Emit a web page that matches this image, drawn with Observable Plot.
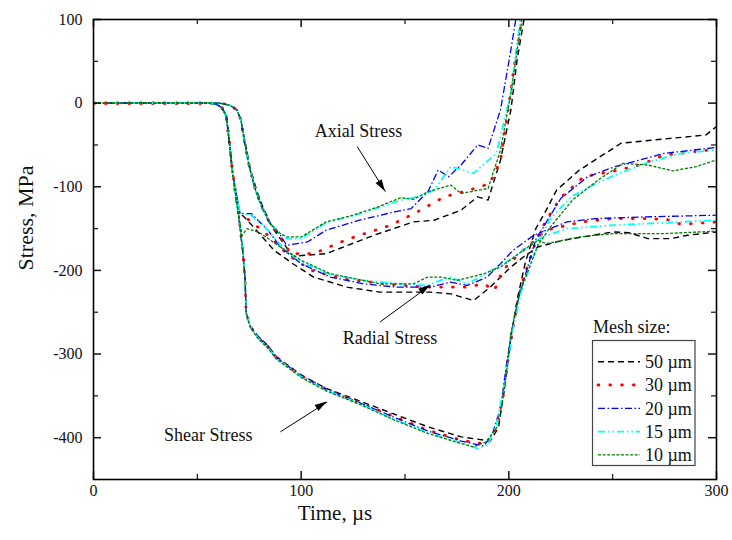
<!DOCTYPE html>
<html><head><meta charset="utf-8">
<script src="https://cdn.jsdelivr.net/npm/d3@7"></script>
<script src="https://cdn.jsdelivr.net/npm/@observablehq/plot@0.6"></script>
<style>
body{margin:0;background:#fff;}
#wrap{position:relative;width:732px;height:540px;}
#legend{position:absolute;left:585px;top:312px;}
</style></head><body><div id="wrap"></div>
<script>
// ---- Legend / series definitions ----
const meshSizes = ["50 µm","30 µm","20 µm","15 µm","10 µm"];
const meshColors = ["#000000","#ff0000","#0000ff","#00ffff","#008000"];

// ---- Shear stress [time µs, stress MPa] ----
const shear50 = [[0,0],[56,0],[59,-1],[62,-6],[64,-16],[66,-60],[67,-84],[70,-136],[72,-180],[73,-210],[73.5,-250],[75.5,-267],[79,-278],[84,-290],[88,-303],[100,-325],[112,-341],[128,-356],[145,-372],[161,-387],[177,-399],[191,-404],[195,-388],[198,-340],[201,-280],[204,-235],[208,-190],[213,-150],[218,-128],[223,-104],[234,-80],[254,-48],[270,-44],[287,-40],[295,-38],[300,-28]];
const shear30 = [[0,0],[56,0],[59,-1],[62,-6],[64,-16],[66,-60],[67,-84],[70,-136],[72,-180],[73,-210],[73.5,-250],[75.5,-267],[79,-279],[84,-291],[88,-304],[100,-326],[112,-342],[128,-358],[145,-375],[161,-391],[177,-403],[189,-408],[193,-395],[197,-355],[200,-300],[204,-240],[207,-210],[213,-165],[218,-140],[225,-113],[236,-88],[249,-82],[263,-74],[275,-62],[283,-60],[300,-55]];
const shear20 = [[0,0],[56,0],[59,-1],[62,-6],[64,-16],[66,-60],[67,-84],[70,-136],[72,-180],[73,-210],[73.5,-250],[75.5,-267],[79,-279],[84,-291],[88,-304],[100,-326],[112,-342],[128,-358],[145,-376],[161,-392],[177,-404],[188,-410],[192,-396],[196,-365],[199,-310],[202,-265],[205,-230],[213,-163],[225,-114],[238,-88],[251,-76],[263,-68],[275,-60],[300,-53]];
const shear15 = [[0,0],[56,0],[59,-1],[62,-6],[64,-16],[66,-60],[67,-84],[70,-136],[72,-180],[73,-210],[73.5,-250],[75.5,-267],[79,-280],[84,-292],[88,-305],[100,-327],[112,-343],[128,-359],[145,-378],[161,-394],[177,-406],[185,-413],[190,-408],[194,-385],[198,-335],[202,-270],[206,-225],[214,-168],[220,-138],[230,-112],[242,-96],[255,-82],[268,-70],[283,-60],[300,-56]];
const shear10 = [[0,0],[56,0],[59,-1],[62,-6],[64,-16],[66,-60],[67,-84],[70,-136],[72,-180],[73,-212],[73.5,-252],[75.5,-268],[79,-281],[84,-293],[88,-306],[100,-328],[112,-344],[128,-360],[145,-379],[161,-395],[177,-407],[183,-411],[189,-405],[195,-385],[198,-340],[201,-275],[205,-228],[214,-170],[220,-148],[231,-115],[243,-92],[255,-72],[267,-74],[279,-81],[290,-76],[300,-68]];

// ---- Radial stress ----
const radial50 = [[0,0],[56,0],[59,-1],[62,-6],[64,-16],[66,-60],[67,-84],[70,-130],[72.5,-136],[77,-148],[87,-176],[96,-192],[106,-208],[122,-220],[138,-226],[162,-226],[172,-228],[183,-236],[191,-220],[201,-196],[207,-184],[214,-172],[226,-164],[250,-154],[258,-155],[267,-162],[278,-162],[286,-158],[300,-154]];
const radial30 = [[0,0],[56,0],[59,-1],[62,-6],[64,-16],[66,-60],[67,-84],[70,-131],[74,-138],[84,-158],[94,-182],[105,-200],[120,-210],[140,-216],[160,-220],[180,-220],[188,-216],[193,-224],[197,-200],[205,-180],[213,-163],[218,-152],[235,-142],[250,-138],[265,-138],[276,-139],[283,-145],[300,-142]];
const radial20 = [[0,0],[56,0],[59,-1],[62,-6],[64,-16],[66,-60],[67,-84],[70.5,-131],[72,-132],[76,-132],[84,-152],[90,-172],[100,-192],[114,-208],[130,-216],[146,-220],[162,-220],[172,-214],[180,-218],[189.5,-208],[196,-192],[202,-176],[212,-158],[220,-150],[228,-142],[242,-138],[266,-136],[300,-134]];
const radial15 = [[0,0],[56,0],[59,-1],[62,-6],[64,-16],[66,-60],[67,-84],[70.5,-131],[76,-134],[84,-152],[92,-175],[100,-190],[114,-205],[130,-212],[148,-216],[161,-218],[167,-212],[172,-208],[180,-216],[186,-208],[193,-198],[200,-188],[209,-172],[216,-160],[228,-150],[250,-146],[275,-143],[300,-140]];
const radial10 = [[0,0],[56,0],[59,-1],[62,-6],[64,-16],[66,-60],[67,-84],[70,-136],[71.5,-158],[74,-150],[80,-155],[90,-172],[100,-188],[114,-204],[138,-216],[154,-216],[161,-208],[168,-208],[175,-212],[188,-204],[196,-196],[207,-176],[214,-164],[218,-168],[234,-160],[250,-156],[275,-156],[300,-153]];

// ---- Axial stress ----
const axial50 = [[0,0],[60,0],[63,-1],[66,-3],[69,-8],[71,-20],[72.8,-44],[75.3,-76],[78.5,-104],[81.5,-124],[86,-148],[91,-166],[96,-183],[112,-180],[135,-158],[154,-142],[164,-140],[177,-128],[185,-112],[190,-116],[196,-68],[201,-8],[204,52],[208,110]];
const axial30 = [[0,0],[60,0],[63,-1],[66,-3],[69,-8],[71,-20],[72.5,-44],[75,-76],[78,-104],[81,-124],[85,-144],[90,-160],[95,-180],[106,-180],[122,-163],[143,-146],[156,-130],[169,-112],[181,-104],[191,-96],[196,-68],[199,-20],[203,52],[207,110]];
const axial20 = [[0,0],[60,0],[63,-1],[66,-3],[69,-8],[71,-20],[72.5,-44],[75,-76],[78,-104],[81,-124],[85,-144],[90,-158],[93,-170],[103,-166],[112,-152],[128,-140],[145,-130],[153,-126],[161,-106],[166,-80],[171,-88],[177,-74],[185,-50],[190,-54],[196,-8],[201,64],[204,110]];
const axial15 = [[0,0],[60,0],[63,-1],[66,-3],[69,-8],[71,-20],[72.5,-44],[75,-76],[78,-104],[81,-124],[85,-144],[90,-156],[93,-162],[100,-162],[112,-143],[125,-135],[137,-125],[148,-116],[156,-112],[164,-104],[172,-76],[178,-80],[183,-84],[194,-60],[201,12],[206,110]];
const axial10 = [[0,0],[60,0],[63,-1],[66,-3],[69,-8],[71,-20],[72.5,-44],[75,-76],[78,-104],[81,-124],[85,-144],[90,-156],[93,-160],[100,-160],[112,-142],[125,-134],[137,-124],[148,-113],[154,-115],[161,-106],[172,-98],[177,-108],[190,-102],[196,-56],[201,12],[205,80],[207,110]];

// ---- Ticks ----
const xMajor = [0,100,200,300];
const xMinor = [50,150,250];
const yMajor = [-400,-300,-200,-100,0,100];
const yMinor = [-350,-250,-150,-50,50];

// ---- Annotations ----
const annoText = ["Axial Stress","Radial Stress","Shear Stress"];
const annoX = [127.6, 142.8, 55.3];
const annoY = [-34, -281.4, -397];
const arrowX1 = [127, 138, 90];
const arrowY1 = [-52, -261.6, -393];
const arrowX2 = [140.6, 162.3, 112.5];
const arrowY2 = [-105.9, -217.6, -357.4];

// ---- Styles per mesh ----
const dashes = ["6,4", "0.8,11", "7,2.5,1.5,2.5", "7,3,1.5,3,1.5,3", "3,1.6"];
const widths = [1.4, 2.8, 1.3, 1.8, 1.3];
const caps = ["butt","round","butt","butt","butt"];

const seriesByMesh = [
  {shear: shear50, radial: radial50, axial: axial50},
  {shear: shear30, radial: radial30, axial: axial30},
  {shear: shear20, radial: radial20, axial: axial20},
  {shear: shear15, radial: radial15, axial: axial15},
  {shear: shear10, radial: radial10, axial: axial10}
];

const rowsFor = (i) => {
  const out = [];
  for (const type of ["shear","radial","axial"]) {
    for (const [t, s] of seriesByMesh[i][type]) out.push({t, s, type});
  }
  return out;
};

const FONT = '"Liberation Serif","Times New Roman",serif';
const frameW = 732 - 93 - 16, frameH = 540 - 19 - 61;

const annos = annoText.map((text, i) => ({text, x: annoX[i], y: annoY[i]}));
const arrows = arrowX1.map((_, i) => ({x1: arrowX1[i], y1: arrowY1[i], x2: arrowX2[i], y2: arrowY2[i]}));

const marks = [];
for (let i = 0; i < meshSizes.length; i++) {
  marks.push(Plot.line(rowsFor(i), {
    x: "t", y: "s", z: "type",
    stroke: meshColors[i], strokeWidth: widths[i],
    strokeDasharray: dashes[i], strokeLinecap: caps[i], strokeLinejoin: "round",
    clip: true
  }));
}
const fmt = d => String(d);
marks.push(
  Plot.tickX(xMajor, {x: d => d, insetTop: frameH - 8, strokeWidth: 1.5}),
  Plot.tickX(xMajor, {x: d => d, insetBottom: frameH - 8, strokeWidth: 1.5}),
  Plot.tickX(xMinor, {x: d => d, insetTop: frameH - 5, strokeWidth: 1.2}),
  Plot.tickX(xMinor, {x: d => d, insetBottom: frameH - 5, strokeWidth: 1.2}),
  Plot.tickY(yMajor, {y: d => d, insetRight: frameW - 8, strokeWidth: 1.5}),
  Plot.tickY(yMajor, {y: d => d, insetLeft: frameW - 8, strokeWidth: 1.5}),
  Plot.tickY(yMinor, {y: d => d, insetRight: frameW - 5, strokeWidth: 1.2}),
  Plot.tickY(yMinor, {y: d => d, insetLeft: frameW - 5, strokeWidth: 1.2}),
  Plot.axisX(xMajor, {tickSize: 0, tickPadding: 5, label: null, fontSize: 16, fontFamily: FONT, fontVariant: "normal", tickFormat: fmt, fill: "#111"}),
  Plot.axisY(yMajor, {tickSize: 0, tickPadding: 11, label: null, fontSize: 16, fontFamily: FONT, fontVariant: "normal", tickFormat: fmt, fill: "#111"}),
  Plot.frame({stroke: "black", strokeWidth: 1.6}),
  Plot.link(arrows, {x1: "x1", y1: "y1", x2: "x2", y2: "y2", stroke: "black", strokeWidth: 1}),
  Plot.text(annos, {x: "x", y: "y", text: "text", fontSize: 18, fontFamily: FONT, fill: "#111"}),
  Plot.text(["Time, µs"], {frameAnchor: "bottom", dx: -70, dy: 40, fontSize: 21, fontFamily: FONT, fill: "#111"}),
  Plot.text(["Stress, MPa"], {frameAnchor: "left", rotate: -90, dx: -68, dy: 21, fontSize: 22, fontFamily: FONT, fill: "#111"})
);

const chart = Plot.plot({
  width: 732, height: 540,
  marginLeft: 93, marginRight: 16, marginTop: 19, marginBottom: 61,
  x: {domain: [0, 300]},
  y: {domain: [-450, 100]},
  style: {fontFamily: FONT, fontSize: "15px", background: "white", color: "#111"},
  marks
});

// filled arrow heads placed with the plot's own scales
const sx = chart.scale("x"), sy = chart.scale("y");
const svgSel = d3.select(chart);
svgSel.selectAll("text").style("font-family", FONT);
for (const a of arrows) {
  const x1 = sx.apply(a.x1), y1 = sy.apply(a.y1), x2 = sx.apply(a.x2), y2 = sy.apply(a.y2);
  const ang = Math.atan2(y2 - y1, x2 - x1);
  const L = 12, W = 3.6;
  const bx = x2 - L * Math.cos(ang), by = y2 - L * Math.sin(ang);
  const px = -Math.sin(ang) * W, py = Math.cos(ang) * W;
  svgSel.append("path")
    .attr("d", `M${x2},${y2}L${bx + px},${by + py}L${bx - px},${by - py}Z`)
    .attr("fill", "black");
}

const wrap = document.getElementById("wrap");
wrap.appendChild(chart);

// ---- Legend (HTML overlay with its own small SVG) ----
const legend = d3.select(wrap).append("svg").attr("id", "legend")
  .attr("width", 125).attr("height", 160)
  .style("font-family", FONT);
legend.append("text").attr("x", 8).attr("y", 21).attr("font-size", 18).attr("fill", "#111").text("Mesh size:");
legend.append("rect").attr("x", 7.5).attr("y", 28.5).attr("width", 102.5).attr("height", 125)
  .attr("fill", "white").attr("stroke", "#444").attr("stroke-width", 1.2);
meshSizes.forEach((label, i) => {
  const cy = 49.7 + i * 23.3;
  legend.append("line").attr("x1", 13).attr("x2", 55).attr("y1", cy).attr("y2", cy)
    .attr("stroke", meshColors[i]).attr("stroke-width", widths[i])
    .attr("stroke-dasharray", dashes[i]).attr("stroke-linecap", caps[i]);
  legend.append("text").attr("x", 60).attr("y", cy).attr("dy", "0.35em")
    .attr("font-size", 18).attr("fill", "#111").text(label);
});
</script></body></html>
